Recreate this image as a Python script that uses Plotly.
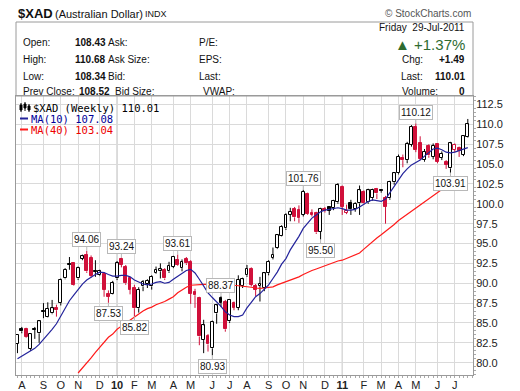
import plotly.graph_objects as go
import pandas as pd

# ---------------- data (weekly bars, dated by week start) ----------------
week_start = "2009-07-27"
n_weeks = 105

opens = [82.4, 84.3, 84.2, 81.7, 84.3, 83.7, 86.5, 85.8, 86.2, 86.85,
         87.5, 90.6, 92.4, 92.5, 90.6, 93.1, 93.5, 93.2, 91.55, 91.0,
         91.2, 88.7, 88.7, 90.6, 93.1, 92.1, 90.6, 89.35, 86.85, 89.6,
         89.9, 89.6, 91.3, 91.5, 91.7, 91.5, 92.1, 92.9, 91.9, 93.0,
         92.7, 88.9, 88.1, 82.85, 83.3, 81.8, 86.2, 88.2, 87.7, 85.2,
         87.5, 86.9, 89.7, 91.0, 91.85, 89.6, 89.65, 89.4, 91.25, 93.2,
         94.4, 96.0, 96.9, 98.6, 99.4, 99.2, 98.6, 101.2, 98.9, 98.8,
         96.5, 99.3, 99.6, 99.43, 100.2, 102.15, 98.9, 100.05, 99.4, 100.05,
         101.5, 100.2, 100.7, 101.9, 101.7, 100.7, 100.7, 102.7, 103.85, 105.8,
         105.5, 107.4, 109.7, 107.6, 105.5, 107.3, 105.9, 107.48, 105.8, 105.3,
         104.46, 106.8, 107.0, 106.15, 108.43]
highs = [83.6, 84.5, 84.4, 83.7, 84.5, 85.3, 87.5, 87.6, 87.9, 87.3,
         90.6, 91.9, 93.3, 92.6, 92.1, 93.6, 94.06, 93.5, 92.9, 91.7,
         91.4, 89.1, 90.3, 92.8, 93.24, 92.3, 90.8, 89.8, 89.5, 90.4,
         90.5, 91.0, 92.1, 92.5, 91.9, 92.7, 93.45, 93.61, 93.0, 93.3,
         92.9, 89.3, 88.3, 85.4, 83.6, 85.3, 87.4, 88.37, 87.9, 88.0,
         87.7, 91.0, 90.7, 92.3, 92.0, 89.9, 90.8, 91.3, 92.9, 94.5,
         96.2, 97.3, 98.8, 99.5, 99.6, 99.8, 101.76, 101.4, 99.3, 99.0,
         99.5, 99.6, 99.7, 100.5, 102.6, 102.3, 99.9, 100.5, 100.2, 102.3,
         101.7, 101.9, 101.9, 102.0, 101.8, 101.0, 102.9, 104.0, 106.2, 106.2,
         107.8, 109.9, 110.12, 108.5, 106.9, 107.5, 107.6, 107.6, 106.6, 105.5,
         107.8, 107.6, 107.2, 108.6, 110.68]
lows = [81.2, 83.7, 83.1, 81.5, 83.0, 82.5, 85.6, 85.7, 86.1, 85.8,
        87.2, 90.5, 91.7, 89.7, 90.4, 92.9, 91.3, 90.7, 90.8, 90.9,
        88.3, 87.53, 88.6, 90.4, 92.0, 89.8, 88.6, 85.82, 86.3, 89.0,
        89.4, 89.2, 91.2, 90.6, 90.4, 91.3, 91.9, 92.2, 91.5, 92.3,
        87.4, 86.9, 82.2, 81.2, 81.4, 80.93, 84.9, 87.0, 83.9, 85.0,
        86.6, 86.6, 89.4, 90.8, 89.6, 88.4, 87.7, 89.0, 91.0, 93.0,
        94.3, 95.9, 96.7, 97.8, 97.8, 97.6, 98.4, 98.6, 98.4, 96.2,
        95.5, 98.9, 98.6, 99.2, 100.0, 98.6, 98.7, 98.6, 99.0, 98.6,
        99.9, 100.0, 100.4, 100.6, 101.4, 97.5, 100.5, 102.4, 103.7, 104.6,
        105.1, 107.2, 106.5, 105.5, 105.3, 105.8, 105.6, 105.1, 105.5, 104.4,
        103.91, 106.5, 105.9, 106.0, 108.34]
closes = [83.5, 83.95, 83.2, 83.6, 84.15, 85.2, 86.4, 86.8, 86.85, 86.6,
          90.4, 91.7, 92.3, 89.8, 91.9, 93.4, 91.5, 90.9, 91.45, 91.5,
          89.15, 88.3, 90.0, 92.5, 92.3, 90.0, 89.15, 86.85, 89.15, 90.2,
          90.3, 90.8, 91.7, 91.75, 90.6, 92.2, 93.3, 92.3, 92.7, 92.5,
          88.7, 88.5, 83.3, 84.7, 82.3, 85.1, 87.2, 87.5, 84.2, 87.9,
          86.9, 90.4, 90.5, 91.85, 89.8, 89.2, 89.95, 91.25, 92.7, 93.6,
          96.05, 97.1, 98.6, 99.0, 98.3, 98.2, 101.5, 98.7, 98.6, 96.4,
          99.4, 99.1, 99.15, 100.35, 102.35, 99.65, 99.1, 99.3, 100.0, 101.7,
          100.05, 101.7, 101.75, 101.3, 101.6, 99.6, 102.75, 103.85, 105.9, 105.5,
          107.5, 109.7, 106.8, 105.7, 106.55, 106.1, 107.3, 105.3, 106.3, 104.9,
          107.6, 107.45, 106.7, 108.52, 110.01]
close_before_first = 82.3

ma10 = [80.5, 80.8, 81.1, 81.4, 81.8, 82.3, 82.9, 83.6, 84.2, 84.9,
        85.9, 86.9, 87.8, 88.5, 89.2, 89.9, 90.4, 90.8, 91.1, 91.4,
        91.35, 91.1, 90.9, 90.9, 91.0, 91.0, 90.8, 90.4, 90.1, 89.9,
        89.8, 89.9, 90.1, 90.2, 90.0, 90.1, 90.5, 90.9, 91.3, 91.6,
        91.75, 91.3, 90.5, 89.6, 88.8, 88.2, 87.7, 87.1, 86.4, 86.0,
        85.8, 85.8, 86.0, 86.9, 87.6, 88.3, 88.7, 89.2, 89.8, 90.6,
        91.4, 92.4, 93.1, 94.2, 95.0, 95.9, 96.9, 97.6, 98.2, 98.6,
        99.0, 99.2, 99.3, 99.4, 99.5, 99.4, 99.2, 99.2, 99.3, 99.6,
        100.0, 100.3, 100.5, 100.4, 100.3, 100.6, 101.4, 102.2, 103.0, 103.8,
        104.4, 104.9, 105.2, 105.5, 106.0, 106.5, 106.9, 107.0, 106.8, 106.5,
        106.4, 106.5, 106.7, 106.9, 107.08]
ma40 = [None] * 14 + [
        78.7, 79.3, 79.9, 80.6, 81.3, 81.9, 82.6, 83.2, 83.6, 84.2,
        84.6, 85.0, 85.4, 85.8, 86.2, 86.5, 86.8, 87.0, 87.3, 87.5,
        87.7, 88.0, 88.3, 88.8, 89.2, 89.5, 89.75, 89.8, 89.85, 89.85,
        89.85, 89.85, 89.85, 89.85, 89.8, 89.8, 89.75, 89.7, 89.65, 89.6,
        89.5, 89.4, 89.35, 89.4, 89.45, 89.55, 89.8, 90.0, 90.2, 90.35,
        90.6, 90.8, 91.1, 91.4, 91.6, 91.8, 92.0, 92.1, 92.3, 92.5,
        92.8, 92.9, 93.1, 93.3, 93.5, 93.8, 94.3, 94.8, 95.3, 95.7,
        96.1, 96.5, 96.9, 97.4, 97.9, 98.3, 98.7, 99.1, 99.5, 99.9,
        100.3, 100.7, 101.1, 101.5, 101.8, 102.1, 102.4, 102.6, 102.8, 102.95,
        103.04]

month_labels = ["A", "S", "O", "N", "D", "<b>10</b>", "F", "M", "A", "M", "J", "J",
                "A", "S", "O", "N", "D", "<b>11</b>", "F", "M", "A", "M", "J", "J"]

# marked highs / lows: (week index, value, text, side)
marks = [(16, 94.06, "94.06", "hi"), (24, 93.24, "93.24", "hi"), (37, 93.61, "93.61", "hi"),
         (21, 87.53, "87.53", "lo"), (27, 85.82, "85.82", "lo"), (45, 80.93, "80.93", "lo"),
         (47, 88.37, "88.37", "hi"), (66, 101.76, "101.76", "hi"), (70, 95.50, "95.50", "lo"),
         (92, 110.12, "110.12", "hi"), (100, 103.91, "103.91", "lo")]

# ---------------- figure ----------------
dates = pd.date_range(week_start, periods=n_weeks, freq="7D")
RED = "#d0103a"
BLACK = "#000000"

fills, edges, base, height = [], [], [], []
wk = {BLACK: ([], []), RED: ([], [])}
prev = close_before_first
for d, o, h, l, c in zip(dates, opens, highs, lows, closes):
    col = RED if c < prev else BLACK
    hollow = c > o
    edges.append(col)
    fills.append("#ffffff" if hollow else col)
    lo_b, hi_b = min(o, c), max(o, c)
    if hi_b - lo_b < 0.06:
        hi_b = lo_b + 0.06
    base.append(lo_b)
    height.append(hi_b - lo_b)
    xs, ys = wk[col]
    xs += [d, d, None, d, d, None]
    ys += [l, lo_b, None, hi_b, h, None]
    prev = c

WEEK_MS = 7 * 86400000
fig = go.Figure()
fig.add_trace(go.Bar(x=dates, y=height, base=base, width=0.66 * WEEK_MS,
                     marker=dict(color=fills, line=dict(color=edges, width=1)),
                     showlegend=False, hoverinfo="skip"))
for col in (BLACK, RED):
    fig.add_trace(go.Scatter(x=wk[col][0], y=wk[col][1], mode="lines",
                             line=dict(color=col, width=1), showlegend=False,
                             hoverinfo="skip", connectgaps=False))
fig.add_trace(go.Scatter(x=dates, y=ma40, mode="lines", line=dict(color="#ff1a1a", width=1.2),
                         showlegend=False))
fig.add_trace(go.Scatter(x=dates, y=ma10, mode="lines", line=dict(color="#23239b", width=1.2),
                         showlegend=False))

# month ticks at the first weekly bar of each month
tickvals = [d for k, d in enumerate(dates) if k > 0 and d.month != dates[k - 1].month]

# reference-pixel geometry (page body has an 8px margin, so the figure is shifted)
PAGE_OFF = 8
L, R, T, B = 16, 473, 96, 375
W, H = 520 - PAGE_OFF, 391 - PAGE_OFF
def px(x):
    return (x - L) / (R - L)
def py(y):
    return (B - y) / (B - T)

x0 = pd.Timestamp("2009-08-03") - pd.Timedelta(days=9.4)
x1 = pd.Timestamp("2009-08-03") + pd.Timedelta(days=729.4)

fig.update_layout(
    width=W, height=H,
    margin=dict(l=L - PAGE_OFF, r=520 - R, t=T - PAGE_OFF, b=391 - B, autoexpand=False),
    paper_bgcolor="white", plot_bgcolor="white", showlegend=False,
    font=dict(family="Liberation Sans, Arial, sans-serif", size=10, color="#111"),
    bargap=0,
)
fig.update_xaxes(type="date", range=[x0, x1], tickvals=tickvals, ticktext=month_labels,
                 automargin=False,
                 showgrid=True, gridcolor="#dadada", gridwidth=1, ticks="",
                 showline=True, linecolor="#9a9a9a", mirror=True,
                 tickfont=dict(size=11, color="#222"),
                 minor=dict(dtick=WEEK_MS, tick0=week_start, ticks="outside", ticklen=2,
                            tickcolor="#aaaaaa", showgrid=False))
fig.update_yaxes(range=[78.45, 113.57], dtick=2.5, tick0=80, tickformat=".1f", side="right",
                 automargin=False,
                 showgrid=True, gridcolor="#dadada", gridwidth=1, ticks="",
                 showline=True, linecolor="#9a9a9a", mirror=True,
                 tickfont=dict(size=11, color="#222"),
                 minor=dict(dtick=0.5, ticks="outside", ticklen=2, tickcolor="#aaaaaa",
                            showgrid=False))

shapes = []
for yr in ("2010-01-04", "2011-01-03"):
    shapes.append(dict(type="line", xref="x", yref="paper", x0=yr, x1=yr, y0=0, y1=1,
                       line=dict(color="#b4b4b4", width=1), layer="below"))
# header box
shapes.append(dict(type="rect", xref="paper", yref="paper", x0=0, x1=1, y0=1, y1=py(22),
                   line=dict(color="#9a9a9a", width=1)))
# legend glyphs
shapes.append(dict(type="line", xref="paper", yref="paper", x0=px(20), x1=px(28),
                   y0=py(118.5), y1=py(118.5), line=dict(color="#23239b", width=2)))
shapes.append(dict(type="line", xref="paper", yref="paper", x0=px(20), x1=px(28),
                   y0=py(129.5), y1=py(129.5), line=dict(color="#ff1a1a", width=2)))
for gx, gy0, gy1, by0, by1 in ((21, 103, 112, 105, 110), (25, 102, 111, 104, 108),
                               (29, 104, 112, 106, 110)):
    shapes.append(dict(type="line", xref="paper", yref="paper", x0=px(gx), x1=px(gx),
                       y0=py(gy0), y1=py(gy1), line=dict(color="#000", width=1)))
    shapes.append(dict(type="rect", xref="paper", yref="paper", x0=px(gx - 1), x1=px(gx + 1),
                       y0=py(by0), y1=py(by1), line=dict(color="#000", width=1),
                       fillcolor="#000"))
fig.update_layout(shapes=shapes)

ann = []
def text(x, y, s, anchor="left", size=10, color="#111", bold=False, family=None):
    d = dict(xref="paper", yref="paper", x=px(x), y=py(y), text=("<b>%s</b>" % s) if bold else s,
             showarrow=False, xanchor=anchor, yanchor="middle",
             font=dict(size=size, color=color))
    if family:
        d["font"]["family"] = family
    ann.append(d)

# title line
text(16, 13.5, "$XAD", size=13, bold=True)
text(53, 13.5, "(Australian Dollar)", size=11)
text(143, 13.5, "INDX", size=9)
text(473, 13.5, "© StockCharts.com", anchor="right", size=10, color="#555")

rows = [42.7, 60, 76, 91.7]
for (lab, val, c3, c4), y, xv, x3, x4 in zip(
        [("Open:", "108.43", "Ask:", "P/E:"), ("High:", "110.68", "Ask Size:", "EPS:"),
         ("Low:", "108.34", "Bid:", "Last:"), ("Prev Close:", "108.52", "Bid Size:", "VWAP:")],
        rows, [72.7, 72.7, 72.7, 77], [106, 106, 106, 112.7], [197, 197, 197, 200.5]):
    text(20.5, y, lab)
    text(xv, y, val, bold=True, size=10)
    text(x3, y, c3)
    text(x4, y, c4)

text(467, 28, "Friday&nbsp;&nbsp;29-Jul-2011", anchor="right")
text(467, 44, "▲ +1.37%", anchor="right", size=15, color="#2e6b30")
text(400, 60, "Chg:")
text(467, 60, "+1.49", anchor="right", bold=True, size=10)
text(399, 76, "Last:")
text(467, 76, "110.01", anchor="right", bold=True, size=10)
text(400, 91.7, "Volume:")
text(467, 91.7, "0", anchor="right", bold=True, size=10)

MONO = "DejaVu Sans Mono, monospace"
text(31, 107.7, "$XAD (Weekly) 110.01", size=10.5, family=MONO, color="#000")
text(29, 118.5, "MA(10) 107.08", size=10.5, family=MONO, color="#000099")
text(29, 129.5, "MA(40) 103.04", size=10.5, family=MONO, color="#ee0000")

for k, v, s, side in marks:
    ann.append(dict(x=dates[k], y=v, xref="x", yref="y", text=s, showarrow=True,
                    arrowhead=0, arrowwidth=1, arrowcolor="#b8b8b8", ax=0,
                    ay=-11 if side == "hi" else 11, standoff=0,
                    bordercolor="#b8b8b8", borderwidth=1, borderpad=1, bgcolor="white",
                    font=dict(size=10, color="#111")))
fig.update_layout(annotations=ann)

fig.write_html("out.html")
